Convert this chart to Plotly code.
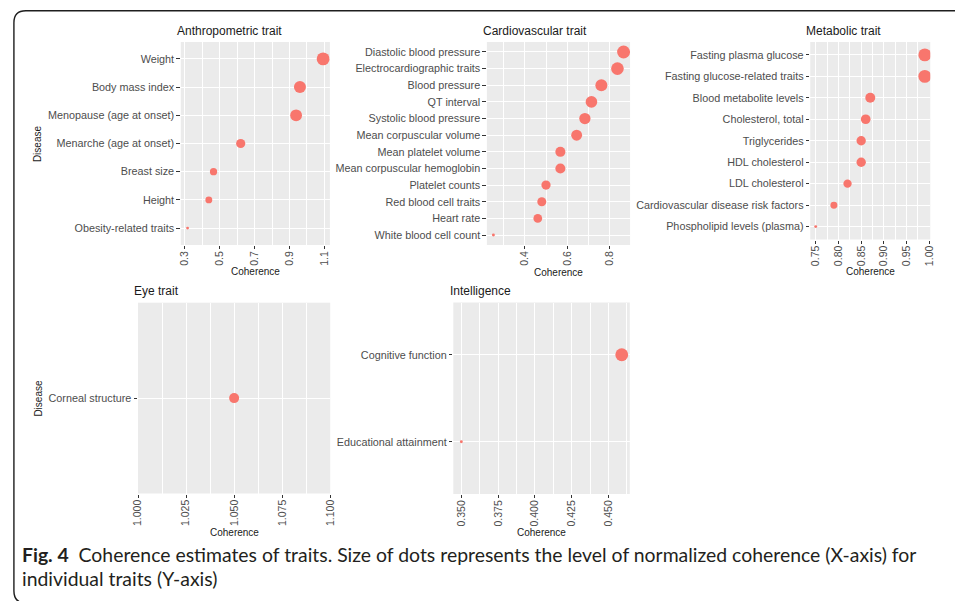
import math
import plotly.graph_objects as go

# ---- data -------------------------------------------------------------
anthro_traits = ["Weight", "Body mass index", "Menopause (age at onset)",
                 "Menarche (age at onset)", "Breast size", "Height",
                 "Obesity-related traits"]
anthro_coh = [1.093, 0.96, 0.938, 0.62, 0.464, 0.437, 0.315]

cardio_traits = ["Diastolic blood pressure", "Electrocardiographic traits",
                 "Blood pressure", "QT interval", "Systolic blood pressure",
                 "Mean corpuscular volume", "Mean platelet volume",
                 "Mean corpuscular hemoglobin", "Platelet counts",
                 "Red blood cell traits", "Heart rate", "White blood cell count"]
cardio_coh = [0.867, 0.838, 0.762, 0.715, 0.684, 0.645, 0.568, 0.568,
              0.50, 0.48, 0.461, 0.251]

metab_traits = ["Fasting plasma glucose", "Fasting glucose-related traits",
                "Blood metabolite levels", "Cholesterol, total", "Triglycerides",
                "HDL cholesterol", "LDL cholesterol",
                "Cardiovascular disease risk factors",
                "Phospholipid levels (plasma)"]
metab_coh = [0.99, 0.99, 0.87, 0.86, 0.85, 0.85, 0.82, 0.79, 0.75]

eye_traits = ["Corneal structure"]
eye_coh = [1.05]

intel_traits = ["Cognitive function", "Educational attainment"]
intel_coh = [0.459, 0.35]

panel_titles = ["Anthropometric trait", "Cardiovascular trait", "Metabolic trait",
                "Eye trait", "Intelligence"]

# ---- page geometry (pixels) -----------------------------------------
W, H = 955, 601


def px(x):
    return x / W


def py(y):
    return 1 - y / H


FONT = "Liberation Sans, Arial, sans-serif"
DOT = "#F8766D"
PANEL_BG = "#EBEBEB"

# panel boxes: (left, top, right, bottom) in px
boxes = [
    (176.0, 42.0, 327.0, 245.0),
    (486.0, 42.0, 631.0, 245.0),
    (813.5, 42.0, 935.0, 239.5),
    (132.7, 302.7, 327.3, 493.5),
    (452.0, 302.5, 630.7, 494.0),
]

# tick settings: (tick0, major dtick, minor dtick, format)
ticks = [
    (0.3, 0.2, 0.1, ".1f"),
    (0.4, 0.2, 0.1, ".1f"),
    (0.75, 0.05, 0.025, ".2f"),
    (1.0, 0.025, 0.0125, ".3f"),
    (0.35, 0.025, 0.0125, ".3f"),
]

panels = [
    (anthro_traits, anthro_coh),
    (cardio_traits, cardio_coh),
    (metab_traits, metab_coh),
    (eye_traits, eye_coh),
    (intel_traits, intel_coh),
]


def dot_sizes(vals):
    """Area-style size scale, rescaled within a panel (range 1..6)."""
    lo, hi = min(vals), max(vals)
    out = []
    for v in vals:
        n = 0.5 if hi == lo else (v - lo) / (hi - lo)
        s = 1 + 5 * math.sqrt(n)
        out.append(0.9 + s * 2.0)
    return out


def x_range(vals):
    lo, hi = min(vals), max(vals)
    if hi == lo:
        return [lo - 0.05, hi + 0.05]
    pad = 0.05 * (hi - lo)
    return [lo - pad, hi + pad]


fig = go.Figure()
layout_axes = {}

for i, ((traits, coh), box, tk) in enumerate(zip(panels, boxes, ticks)):
    k = "" if i == 0 else str(i + 1)
    fig.add_trace(go.Scatter(
        x=coh, y=traits, mode="markers",
        marker=dict(color=DOT, size=dot_sizes(coh), line=dict(width=0), opacity=1),
        xaxis="x" + k, yaxis="y" + k, showlegend=False, hoverinfo="x+y",
    ))
    l, t, r, b = box
    n = len(traits)
    layout_axes["xaxis" + k] = dict(
        domain=[px(l), px(r)], anchor="y" + k, range=x_range(coh),
        tick0=tk[0], dtick=tk[1], tickformat=tk[3], tickangle=-90,
        showgrid=True, gridcolor="white", gridwidth=1.1,
        ticks="outside", ticklen=3, tickwidth=1, tickcolor="#333333",
        tickfont=dict(family=FONT, size=10.5, color="#4D4D4D"),
        ticklabelstandoff=-2,
        showline=False, zeroline=False,
        minor=dict(tick0=tk[0], dtick=tk[2], showgrid=True, gridcolor="white",
                   gridwidth=0.55, ticks=""),
    )
    layout_axes["yaxis" + k] = dict(
        domain=[py(b), py(t)], anchor="x" + k, type="category",
        categoryorder="array", categoryarray=list(reversed(traits)),
        range=[-0.6, n - 0.4],
        showgrid=True, gridcolor="white", gridwidth=1.1,
        ticks="outside", ticklen=3.5, tickwidth=1, tickcolor="#333333",
        tickfont=dict(family=FONT, size=10.8, color="#4D4D4D"),
        showline=False, zeroline=False,
    )

# ---- text: panel titles, axis titles, caption -------------------------
ann = []
title_pos = [(176, 31), (486.5, 31), (813.5, 31), (132.7, 291), (452.3, 291)]
for txt, (x, y) in zip(panel_titles, title_pos):
    ann.append(dict(text=txt, x=px(x - 6), y=py(y), xref="paper", yref="paper",
                    xanchor="left", yanchor="middle", showarrow=False,
                    font=dict(family=FONT, size=12, color="#1A1A1A")))

for x, y in [(251.5, 271.5), (558.5, 272), (874, 271), (230, 532), (541, 532)]:
    ann.append(dict(text="Coherence", x=px(x), y=py(y), xref="paper", yref="paper",
                    xanchor="center", yanchor="middle", showarrow=False,
                    font=dict(family=FONT, size=10, color="#1A1A1A")))

for y in [143.5, 398]:
    ann.append(dict(text="Disease", x=px(31), y=py(y), xref="paper", yref="paper",
                    xanchor="center", yanchor="middle", showarrow=False, textangle=-90,
                    font=dict(family=FONT, size=10, color="#1A1A1A")))

CAP_FONT = "Lato, Noto Sans, sans-serif"
ann.append(dict(text="<b>Fig. 4</b>  Coherence estimates of traits. Size of dots represents "
                     "the level of normalized coherence (X-axis) for",
                x=px(13), y=py(554), xref="paper", yref="paper",
                xanchor="left", yanchor="middle", showarrow=False,
                font=dict(family=CAP_FONT, size=19.4, color="#231F20")))
ann.append(dict(text="individual traits (Y-axis)",
                x=px(13), y=py(578), xref="paper", yref="paper",
                xanchor="left", yanchor="middle", showarrow=False,
                font=dict(family=CAP_FONT, size=19.4, color="#231F20")))

# ---- rounded frame around the figure ----------------------------------
fx0, fy0, rad = 7.0, 10.7, 12.0
fx1, fy1 = 970.0, 603.0
frame_path = (
    f"M {px(fx1)},{py(fy0)} L {px(fx0 + rad)},{py(fy0)} "
    f"Q {px(fx0)},{py(fy0)} {px(fx0)},{py(fy0 + rad)} "
    f"L {px(fx0)},{py(fy1 - rad)} "
    f"Q {px(fx0)},{py(fy1)} {px(fx0 + rad)},{py(fy1)}"
)
shapes = [dict(type="path", path=frame_path, xref="paper", yref="paper",
               line=dict(color="#1E1E1E", width=1.4), layer="above")]

fig.update_layout(
    width=W, height=H, margin=dict(l=0, r=0, t=0, b=0),
    paper_bgcolor="white", plot_bgcolor=PANEL_BG,
    annotations=ann, shapes=shapes, showlegend=False,
    **layout_axes,
)

fig.write_html("out.html")
